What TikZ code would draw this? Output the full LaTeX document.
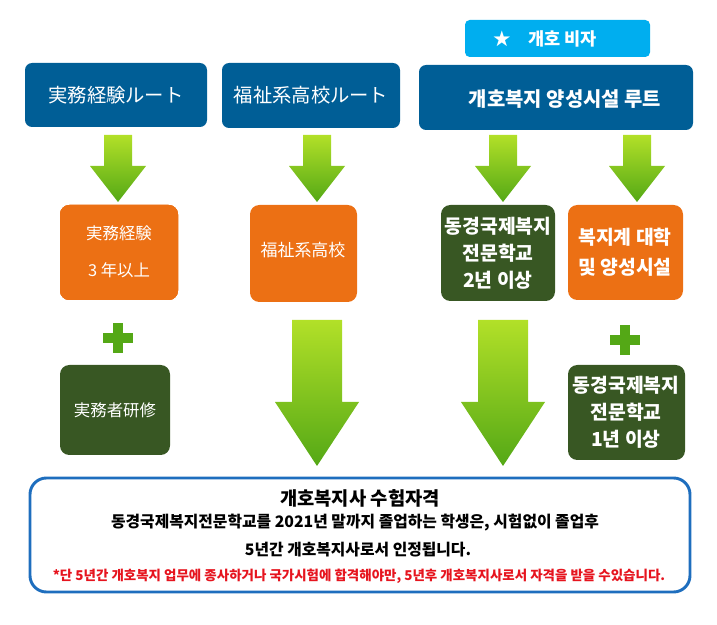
\documentclass[tikz,border=0pt]{standalone}
\usepackage{fontspec}
\setmainfont{Noto Sans CJK KR}
\newfontfamily\jpfont{Noto Sans CJK JP}
\definecolor{nsky}{RGB}{0, 174, 239}
\definecolor{nblue}{RGB}{0, 94, 150}
\definecolor{norange}{RGB}{236, 112, 20}
\definecolor{ngreen}{RGB}{56, 87, 35}
\definecolor{nlime}{RGB}{178, 224, 40}
\definecolor{nleaf}{RGB}{84, 168, 22}
\definecolor{nframe}{RGB}{30, 110, 190}
\definecolor{nred}{RGB}{230, 20, 30}
\newcommand{\downarrowshape}[6]{% x, top, bottom, shaft half, head half, head start
  \shade[top color=nlime, bottom color=nleaf]
    (#1-#4,#2) -- (#1+#4,#2) -- (#1+#4,#6) -- (#1+#5,#6) -- (#1,#3)
    -- (#1-#5,#6) -- (#1-#4,#6) -- cycle;}
\newcommand{\plussign}[2]{%
  \fill[nleaf] (#1-5,#2-15) rectangle (#1+5,#2+15);
  \fill[nleaf] (#1-15,#2-5) rectangle (#1+15,#2+5);}
\begin{document}
\begin{tikzpicture}[x=0.03cm, y=-0.03cm,
    head/.style={fill=nblue, rounded corners=6pt},
    stage/.style={rounded corners=8pt},
    final/.style={stage, fill=ngreen}]
    \useasboundingbox (0,0) rectangle (717,625);
    % headers
    \fill[nsky, rounded corners=4pt] (465,20) rectangle (650,57);
    \node[text=white, font=\bfseries\fontsize{15}{17}\selectfont] (visa) at (545,39) {★\quad 개호 비자};
    \fill[head] (25,63) rectangle (207,127);
    \node[text=white, font=\jpfont\fontsize{16.5}{18}\selectfont] (route1) at (116,95) {実務経験ルート};
    \fill[head] (222,63) rectangle (400,128);
    \node[text=white, font=\jpfont\fontsize{16.5}{18}\selectfont] (route2) at (311,95) {福祉系高校ルート};
    \fill[head] (419,65) rectangle (693,130);
    \node[text=white, font=\bfseries\fontsize{17}{19}\selectfont] (route3) at (565,99) {개호복지 양성시설 루트};
    % small arrows
    \foreach \ax in {118,317,503,637}
        \downarrowshape{\ax}{135}{202}{14}{28}{166}
    % stage boxes
    \fill[stage, fill=norange] (60,205) rectangle (178,300);
    \node[text=white, align=center, font=\jpfont\fontsize{14}{32}\selectfont] (exp) at (119,252) {実務経験\\3 年以上};
    \fill[stage, fill=norange] (250,205) rectangle (357,302);
    \node[text=white, font=\jpfont\fontsize{14.5}{16}\selectfont] (hs) at (303,250) {福祉系高校};
    \fill[final] (441,205) rectangle (555,301);
    \node[text=white, align=center, font=\bfseries\fontsize{16.5}{23}\selectfont] (dk2) at (498,253) {동경국제복지\\전문학교\\2년 이상};
    \fill[stage, fill=norange] (568,205) rectangle (683,300);
    \node[text=white, align=center, font=\bfseries\fontsize{16.5}{26}\selectfont] (univ) at (625,252) {복지계 대학\\및 양성시설};
    % pluses
    \plussign{118}{338}
    \plussign{625}{340}
    % second row
    \fill[final] (60,365) rectangle (170,455);
    \node[text=white, font=\jpfont\fontsize{14}{16}\selectfont] (train) at (115,410) {実務者研修};
    \fill[final] (568,365) rectangle (685,460);
    \node[text=white, align=center, font=\bfseries\fontsize{16.5}{23}\selectfont] (dk1) at (626,412) {동경국제복지\\전문학교\\1년 이상};
    % big arrows
    \downarrowshape{317}{320}{466}{25}{42}{402}
    \downarrowshape{503}{320}{466}{25}{42}{402}
    % qualification
    \draw[nframe, line width=2.5pt, fill=white, rounded corners=14pt] (30,478) rectangle (690,592);
    \node[font=\bfseries\fontsize{16}{18}\selectfont] (qual) at (360,498) {개호복지사 수험자격};
    \node[font=\bfseries\fontsize{13.5}{15}\selectfont] (ln1) at (355,523) {동경국제복지전문학교를 2021년 말까지 졸업하는 학생은, 시험없이 졸업후};
    \node[font=\bfseries\fontsize{13.5}{15}\selectfont] (ln2) at (358,550) {5년간 개호복지사로서 인정됩니다.};
    \node[text=nred, font=\bfseries\fontsize{11.5}{13}\selectfont] (note) at (359,576) {*단 5년간 개호복지 업무에 종사하거나 국가시험에 합격해야만, 5년후 개호복지사로서 자격을 받을 수있습니다.};
\end{tikzpicture}
\end{document}
